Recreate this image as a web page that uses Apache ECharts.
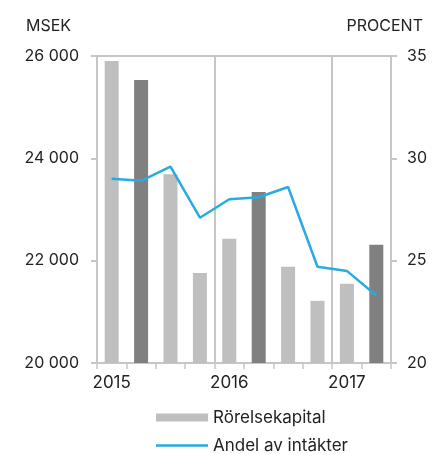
<!DOCTYPE html>
<html>
<head>
<meta charset="utf-8">
<script src="https://cdn.jsdelivr.net/npm/echarts@6/dist/echarts.min.js"></script>
<style>
  html, body { margin: 0; padding: 0; background: #fff; }
  #chart { width: 438px; height: 454px; }
</style>
</head>
<body>
<div id="chart"></div>
<script>
var quarters = ['2015 Q1', '2015 Q2', '2015 Q3', '2015 Q4', '2016 Q1', '2016 Q2', '2016 Q3', '2016 Q4', '2017 Q1', '2017 Q2'];
var yearLabels = ['2015', '', '', '', '2016', '', '', '', '2017', ''];
var rorelsekapital = [25900, 25530, 23690, 21760, 22430, 23340, 21880, 21215, 21550, 22310];
var andelAvIntakter = [29.0, 28.9, 29.6, 27.1, 28.0, 28.1, 28.6, 24.7, 24.5, 23.3];
var darkBars = [1, 5, 9];

var font = 'Inter';
var textColor = '#222';
var lineGray = '#c6c6c6';

var dom = document.getElementById('chart');
var myChart = echarts.init(dom);

var barData = rorelsekapital.map(function (v, i) {
  return {
    value: v,
    itemStyle: { color: darkBars.indexOf(i) >= 0 ? '#808080' : '#bfbfbf' }
  };
});

function thousands(v) {
  return String(v).replace(/\B(?=(\d{3})+(?!\d))/g, ' ');
}

var option = {
  backgroundColor: '#fff',
  animation: false,
  textStyle: { fontFamily: font },
  title: [
    { text: 'MSEK', left: 21, top: 13, textStyle: { fontFamily: font, fontSize: 16, fontWeight: 'normal', color: textColor } },
    { text: 'PROCENT', right: 10, top: 13, textStyle: { fontFamily: font, fontSize: 16, fontWeight: 'normal', color: textColor } }
  ],
  grid: {
    left: 97, right: 47, top: 56, bottom: 91,
    show: true, borderColor: lineGray, borderWidth: 2
  },
  legend: {
    orient: 'vertical',
    left: 156,
    top: 409,
    height: 45,
    itemWidth: 52,
    itemHeight: 8,
    itemGap: 11,
    padding: 0,
    textStyle: { fontFamily: font, fontSize: 17, color: textColor },
    data: [
      { name: 'Rörelsekapital', icon: 'rect', itemStyle: { color: '#bfbfbf' } },
      { name: 'Andel av intäkter', icon: 'path://M0,0h52v2.5h-52z', itemStyle: { color: '#29abe2' } }
    ]
  },
  xAxis: {
    type: 'category',
    data: quarters,
    axisLine: { lineStyle: { color: lineGray, width: 2 } },
    axisTick: { show: true, length: 6, lineStyle: { color: lineGray, width: 1.5 } },
    axisLabel: {
      interval: 0,
      margin: 11,
      fontFamily: font,
      fontSize: 17,
      color: textColor,
      formatter: function (v, i) { return yearLabels[i]; }
    },
    splitLine: {
      show: true,
      interval: function (i) { return i === 4 || i === 8; },
      lineStyle: { color: lineGray, width: 2 }
    }
  },
  yAxis: [
    {
      type: 'value',
      min: 20000,
      max: 26000,
      interval: 2000,
      axisLine: { show: true, lineStyle: { color: lineGray, width: 2 } },
      axisTick: { show: true, length: 6, lineStyle: { color: lineGray, width: 2 } },
      splitLine: { show: false },
      axisLabel: {
        margin: 18,
        fontFamily: font,
        fontSize: 16,
        color: textColor,
        formatter: thousands
      }
    },
    {
      type: 'value',
      min: 20,
      max: 35,
      interval: 5,
      position: 'right',
      axisLine: { show: true, lineStyle: { color: lineGray, width: 2 } },
      axisTick: { show: true, length: 6, lineStyle: { color: lineGray, width: 2 } },
      splitLine: { show: false },
      axisLabel: {
        margin: 16,
        fontFamily: font,
        fontSize: 16,
        color: textColor
      }
    }
  ],
  series: [
    {
      name: 'Rörelsekapital',
      type: 'bar',
      barWidth: 14,
      data: barData,
      itemStyle: { color: '#bfbfbf' }
    },
    {
      name: 'Andel av intäkter',
      type: 'line',
      yAxisIndex: 1,
      data: andelAvIntakter,
      symbol: 'none',
      color: '#29abe2',
      lineStyle: { color: '#29abe2', width: 2.5 }
    }
  ]
};

myChart.setOption(option, true);
</script>
</body>
</html>
